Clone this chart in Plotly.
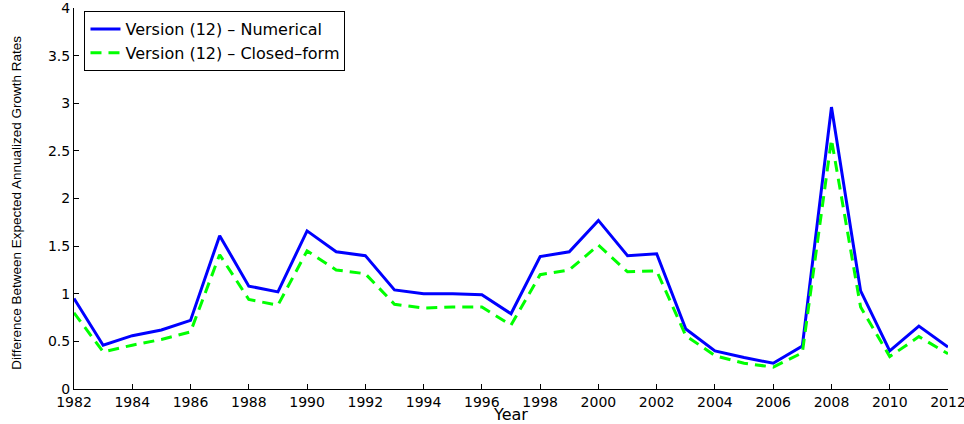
import plotly.graph_objects as go

years = list(range(1982, 2013))

numerical = [0.95, 0.46, 0.56, 0.62, 0.72, 1.61, 1.08, 1.02, 1.66, 1.44, 1.40,
             1.04, 1.00, 1.00, 0.99, 0.79, 1.39, 1.44, 1.77, 1.40, 1.42,
             0.63, 0.40, 0.33, 0.27, 0.45, 2.96, 1.03, 0.40, 0.66, 0.44]

closed_form = [0.80, 0.39, 0.46, 0.52, 0.60, 1.41, 0.94, 0.88, 1.45, 1.25, 1.21,
               0.89, 0.85, 0.86, 0.86, 0.67, 1.20, 1.25, 1.51, 1.23, 1.24,
               0.56, 0.35, 0.27, 0.23, 0.38, 2.62, 0.86, 0.34, 0.55, 0.37]

x_ticks = list(range(1982, 2013, 2))
y_ticks = [0, 0.5, 1, 1.5, 2, 2.5, 3, 3.5, 4]
y_tick_labels = ["0", "0.5", "1", "1.5", "2", "2.5", "3", "3.5", "4"]

WIDE = "DejaVu Sans, Verdana, sans-serif"
NARROW = "Liberation Sans Narrow, Arial Narrow, Liberation Sans, Arial, sans-serif"

fig = go.Figure()

fig.add_trace(go.Scatter(
    x=years, y=numerical, mode="lines",
    name="Version (12) \u2013 Numerical",
    line=dict(color="#0000ff", width=3),
))
fig.add_trace(go.Scatter(
    x=years, y=closed_form, mode="lines",
    name="Version (12) \u2013 Closed\u2013form",
    line=dict(color="#00ff00", width=3, dash="11px,7px"),
))

fig.update_layout(
    width=964, height=424,
    margin=dict(l=74, r=16, t=8, b=35),
    paper_bgcolor="white", plot_bgcolor="white",
    font=dict(family=WIDE, size=14, color="black"),
    showlegend=True,
    legend=dict(
        x=0.012, y=0.992, xanchor="left", yanchor="top",
        bordercolor="black", borderwidth=1, bgcolor="white",
        font=dict(family=WIDE, size=16, color="black"),
        tracegroupgap=0,
    ),
)

fig.update_xaxes(
    range=[1982, 2012], tickvals=x_ticks, automargin=False,
    ticklabeloverflow="allow",
    ticks="inside", ticklen=5, tickcolor="black",
    showline=True, linecolor="black", linewidth=1,
    showgrid=False, zeroline=False,
    title=dict(text="Year", font=dict(family=WIDE, size=16), standoff=0),
)
fig.update_yaxes(
    range=[0, 4], tickvals=y_ticks, ticktext=y_tick_labels, automargin=False,
    ticklabeloverflow="allow",
    ticks="inside", ticklen=5, tickcolor="black",
    showline=True, linecolor="black", linewidth=1,
    showgrid=False, zeroline=False,
)

# y-axis title as a rotated annotation so it sits where the original has it
fig.add_annotation(
    text="Difference Between Expected Annualized Growth Rates",
    xref="paper", yref="paper", x=-0.066, y=0.49,
    xanchor="center", yanchor="middle", textangle=-90, showarrow=False,
    font=dict(family=NARROW, size=13.5, color="black"),
)

fig.write_html("out.html", config={"displayModeBar": False},
               post_script="document.body.style.margin='0';")
